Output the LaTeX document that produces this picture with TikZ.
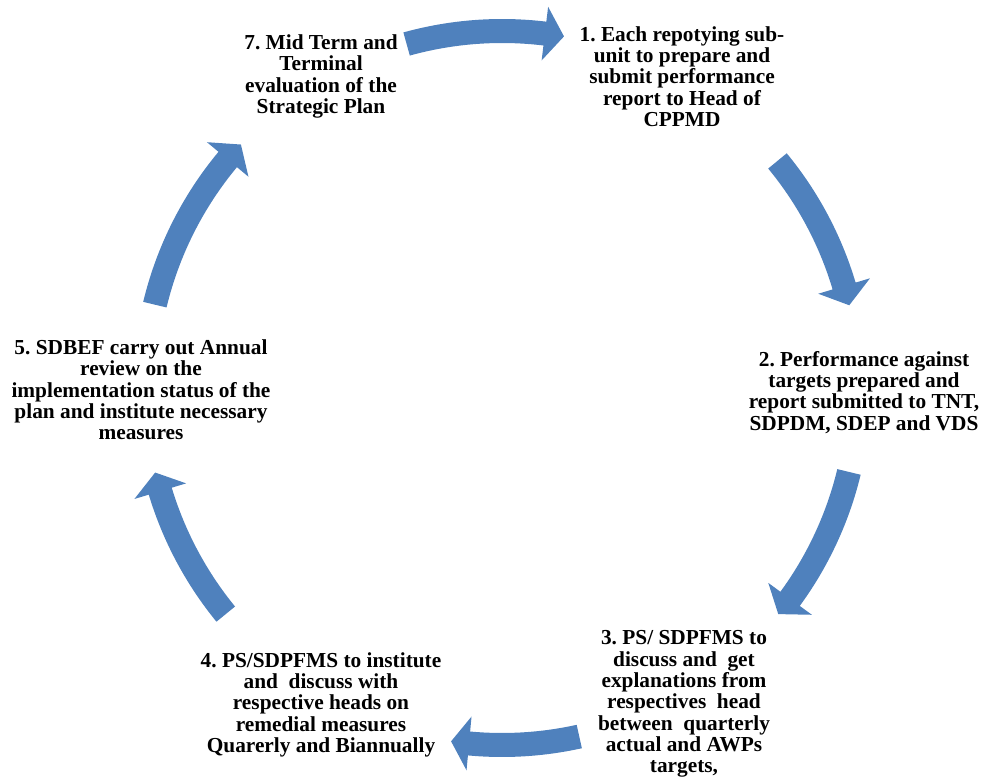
\documentclass[tikz,border=0pt]{standalone}
\usepackage{fontspec}
\setmainfont{Liberation Serif}
\frenchspacing
\definecolor{cycblue}{RGB}{79,129,189}
\newcommand\cycarrow[3]{%
  \fill[cycblue] (#1:369) arc[start angle=#1, end angle=#2, radius=369]
    -- (#2:384) -- (#3:357) -- (#2:330) -- (#2:345)
    arc[start angle=#2, end angle=#1, radius=345] -- cycle;}
\begin{document}
\begin{tikzpicture}[x=0.75pt,y=-0.75pt,
  steptext/.style={align=center,inner sep=0pt,anchor=north,
    font=\fontsize{16}{16}\selectfont\bfseries\frenchspacing}]
\useasboundingbox (0,0) rectangle (982,780);
\begin{scope}[shift={(502,388)},yscale=-1]
  \cycarrow{105.5}{83.1}{80}
  \cycarrow{39.5}{16.6}{13.4}
  \cycarrow{-13.6}{-36.2}{-39.3}
  \cycarrow{-77.5}{-95.3}{-98.2}
  \cycarrow{219.3}{196.8}{193.7}
  \cycarrow{166.5}{140.2}{137}
\end{scope}
\node[steptext] (s1) at (682,26) {1. Each repotying sub-\\unit to prepare and\\submit performance\\report to Head of\\CPPMD};
\node[steptext] (s2) at (864,351) {2. Performance against\\targets prepared and\\report submitted to TNT,\\SDPDM, SDEP and VDS};
\node[steptext] (s3) at (684,630.5) {3. PS/ SDPFMS to\\discuss and~ get\\explanations from\\respectives~ head\\between~ quarterly\\actual and AWPs\\targets,};
\node[steptext] (s4) at (321,652) {4. PS/SDPFMS to institute\\and~ discuss with\\respective heads on\\remedial measures\\Quarerly and Biannually};
\node[steptext] (s5) at (141,339.5) {5. SDBEF carry out Annual\\review on the\\implementation status of the\\plan and institute necessary\\measures};
\node[steptext] (s7) at (321,34.5) {7. Mid Term and\\Terminal\\evaluation of the\\Strategic Plan};
\end{tikzpicture}
\end{document}
